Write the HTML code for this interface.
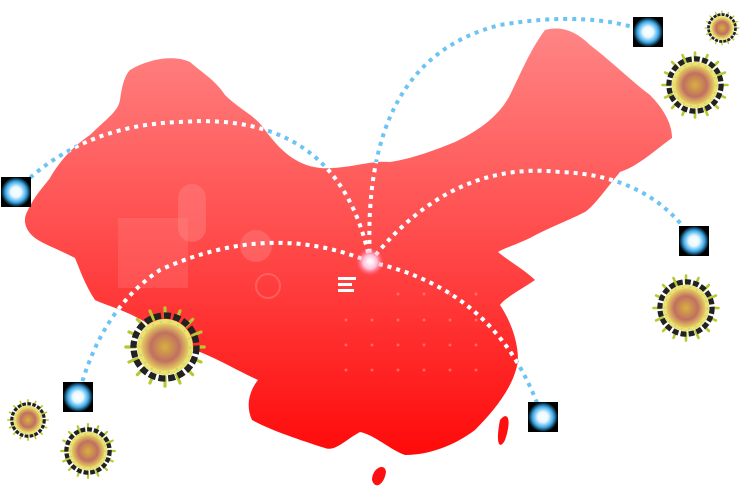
<!DOCTYPE html>
<html><head><meta charset="utf-8"><style>html,body{margin:0;padding:0;background:#fff;width:742px;height:489px;overflow:hidden}</style></head>
<body>
<svg width="742" height="489" viewBox="0 0 742 489" xmlns="http://www.w3.org/2000/svg">
<defs>
<linearGradient id="mg" x1="0" y1="0" x2="0" y2="1">
<stop offset="0" stop-color="#ff8585"/><stop offset="0.5" stop-color="#ff4a4a"/><stop offset="1" stop-color="#ff0a0a"/></linearGradient>
<radialGradient id="glow"><stop offset="0" stop-color="#fff"/><stop offset="0.35" stop-color="#e8f8ff"/><stop offset="0.7" stop-color="#3aa8e8"/><stop offset="1" stop-color="#000"/></radialGradient>
<radialGradient id="hub"><stop offset="0" stop-color="#fff"/><stop offset="0.5" stop-color="#ffd0e8" stop-opacity="0.9"/><stop offset="1" stop-color="#ff6090" stop-opacity="0"/></radialGradient>
<radialGradient id="vc"><stop offset="0" stop-color="#d8b040"/><stop offset="0.6" stop-color="#c07060"/><stop offset="1" stop-color="#e8d060"/></radialGradient>
<path id="map" d="M130,70 C150,58 175,55 190,62 C205,75 215,80 225,95 C240,110 255,115 265,130 C280,150 295,165 320,168 C345,170 370,160 390,162 C415,158 435,150 455,142 C480,130 500,115 510,95 C520,75 530,50 545,30 C560,26 575,30 590,45 C610,60 630,80 650,95 C665,110 672,125 672,138 C655,150 640,165 620,172 C605,190 595,205 585,212 C565,222 548,228 530,238 C515,245 505,248 498,252 C510,262 525,270 535,280 C520,290 505,298 500,305 C510,320 518,340 518,360 C515,385 495,410 475,430 C455,445 430,455 405,455 C390,450 375,435 360,432 C345,440 335,452 325,448 C300,440 270,430 252,420 C245,405 250,390 258,380 C240,372 220,360 200,352 C180,345 160,335 145,322 C125,310 105,305 95,300 C85,285 80,270 75,258 C60,250 45,245 35,238 C25,230 22,220 28,210 C35,195 45,185 50,178 C60,160 75,145 90,135 C105,120 118,112 120,100 C122,85 125,75 130,70 Z"/>
<clipPath id="mc"><use href="#map"/></clipPath>
<g id="vir">
<circle r="1" fill="none"/>
<g stroke="#b8c830" stroke-width="0.09" stroke-linecap="round">
<line x1="0" y1="-0.85" x2="0" y2="-1.12"/><line x1="0" y1="0.85" x2="0" y2="1.12"/><line x1="-0.85" y1="0" x2="-1.12" y2="0"/><line x1="0.85" y1="0" x2="1.12" y2="0"/>
<line x1="0.6" y1="0.6" x2="0.79" y2="0.79"/><line x1="-0.6" y1="0.6" x2="-0.79" y2="0.79"/><line x1="0.6" y1="-0.6" x2="0.79" y2="-0.79"/><line x1="-0.6" y1="-0.6" x2="-0.79" y2="-0.79"/>
<line x1="0.33" y1="0.79" x2="0.43" y2="1.03"/><line x1="-0.33" y1="0.79" x2="-0.43" y2="1.03"/><line x1="0.33" y1="-0.79" x2="0.43" y2="-1.03"/><line x1="-0.33" y1="-0.79" x2="-0.43" y2="-1.03"/>
<line x1="0.79" y1="0.33" x2="1.03" y2="0.43"/><line x1="-0.79" y1="0.33" x2="-1.03" y2="0.43"/><line x1="0.79" y1="-0.33" x2="1.03" y2="-0.43"/><line x1="-0.79" y1="-0.33" x2="-1.03" y2="-0.43"/>
</g>
<circle r="0.9" fill="none" stroke="#222" stroke-width="0.18" stroke-dasharray="0.2 0.08"/>
<circle r="0.8" fill="#f0e070"/>
<circle r="0.68" fill="url(#vc)"/>
<circle r="0.72" fill="none" stroke="#90e890" stroke-width="0.05" stroke-dasharray="0.05 0.2"/>
</g>
<g id="node"><rect width="30" height="30" fill="#000"/><rect width="30" height="30" fill="url(#glow)"/></g>
</defs>
<use href="#map" fill="url(#mg)"/>
<path d="M500,420 C508,410 512,420 505,440 C500,450 495,445 500,420Z" fill="#ff1010"/>
<path d="M372,480 C372,468 385,462 386,472 C384,485 375,490 372,480Z" fill="#ff1010"/>
<rect x="178" y="184" width="28" height="58" rx="14" fill="#ff8080" opacity="0.5"/>
<circle cx="256" cy="246" r="16" fill="#ff9090" opacity="0.35"/>
<circle cx="268" cy="286" r="12" fill="none" stroke="#ff9090" stroke-width="2" opacity="0.4"/>
<g fill="#ff9090" opacity="0.25"><rect x="118" y="218" width="70" height="70"/></g>
<g fill="none" stroke-linecap="butt" stroke-width="4" stroke-dasharray="4 5">
<g stroke="#6cc4f4">
<path d="M370,262 Q340,110 180,122 Q80,125 15,192"/>
<path d="M370,262 Q270,220 160,270 Q100,310 78,397"/>
<path d="M370,262 Q360,60 500,25 Q590,10 648,32"/>
<path d="M370,262 Q450,160 560,172 Q650,175 693,240"/>
<path d="M370,262 Q500,290 542,417"/>
</g>
<g stroke="#fff" clip-path="url(#mc)">
<path d="M370,262 Q340,110 180,122 Q80,125 15,192"/>
<path d="M370,262 Q270,220 160,270 Q100,310 78,397"/>
<path d="M370,262 Q360,60 500,25 Q590,10 648,32"/>
<path d="M370,262 Q450,160 560,172 Q650,175 693,240"/>
<path d="M370,262 Q500,290 542,417"/>
</g>
</g>
<g fill="#ff8a8a" opacity="0.6">
<circle cx="346" cy="320" r="1.5"/><circle cx="372" cy="320" r="1.5"/><circle cx="398" cy="320" r="1.5"/><circle cx="424" cy="320" r="1.5"/><circle cx="450" cy="320" r="1.5"/><circle cx="476" cy="320" r="1.5"/>
<circle cx="346" cy="345" r="1.5"/><circle cx="372" cy="345" r="1.5"/><circle cx="398" cy="345" r="1.5"/><circle cx="424" cy="345" r="1.5"/><circle cx="450" cy="345" r="1.5"/><circle cx="476" cy="345" r="1.5"/>
<circle cx="346" cy="370" r="1.5"/><circle cx="372" cy="370" r="1.5"/><circle cx="398" cy="370" r="1.5"/><circle cx="424" cy="370" r="1.5"/><circle cx="450" cy="370" r="1.5"/><circle cx="476" cy="370" r="1.5"/>
<circle cx="398" cy="294" r="1.5"/><circle cx="424" cy="294" r="1.5"/><circle cx="450" cy="294" r="1.5"/><circle cx="476" cy="294" r="1.5"/>
</g>
<g fill="#fff"><rect x="338" y="277" width="18" height="3"/><rect x="338" y="283" width="14" height="3"/><rect x="338" y="289" width="16" height="3"/></g>
<circle cx="370" cy="262" r="14" fill="url(#hub)"/>
<use href="#node" x="1" y="177"/>
<use href="#node" x="63" y="382"/>
<use href="#node" x="633" y="17"/>
<use href="#node" x="679" y="226"/>
<use href="#node" x="528" y="402"/>
<use href="#vir" transform="translate(165,347) scale(35)"/>
<use href="#vir" transform="translate(28,420) scale(18)"/>
<use href="#vir" transform="translate(88,451) scale(24)"/>
<use href="#vir" transform="translate(695,85) scale(29)"/>
<use href="#vir" transform="translate(686,308) scale(29)"/>
<use href="#vir" transform="translate(722,28) scale(15)"/>
</svg>
</body></html>
